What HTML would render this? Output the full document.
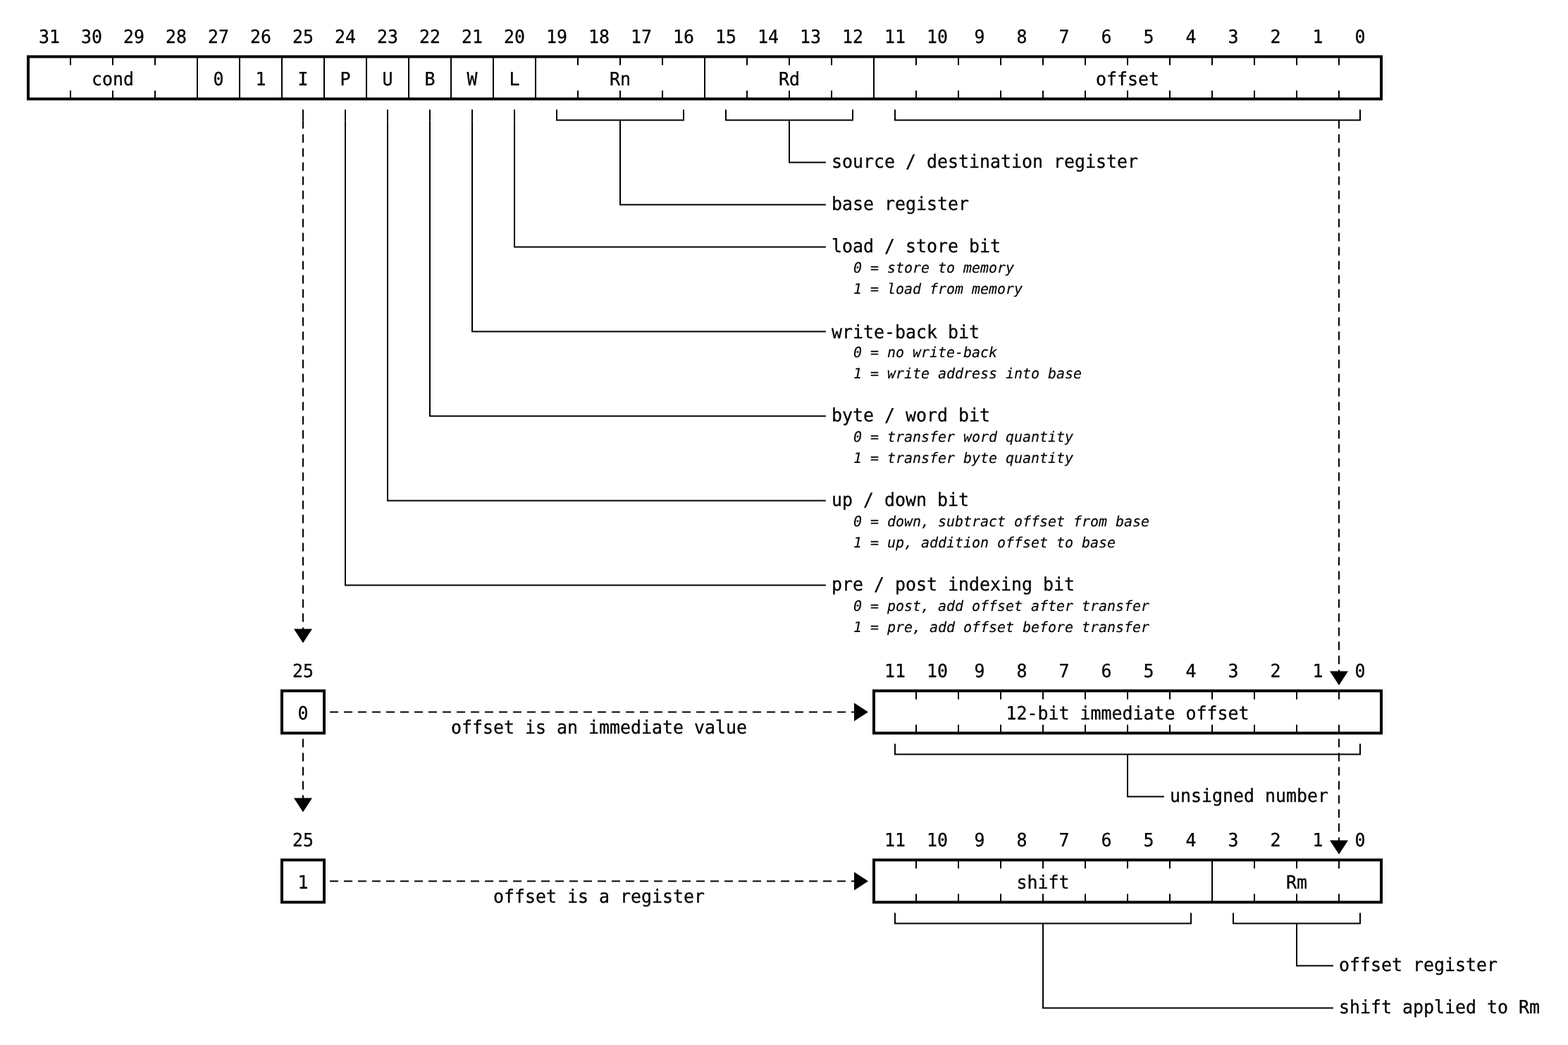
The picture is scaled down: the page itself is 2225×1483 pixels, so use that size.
<!DOCTYPE html>
<html lang="en">
<head>
<meta charset="utf-8">
<title>ARM single data transfer instruction format</title>
<style>
html,body{margin:0;padding:0;background:#fff;}
body{width:2225px;height:1483px;overflow:hidden;}
svg{display:block;will-change:transform;}
text{font-family:"DejaVu Sans Mono", "Liberation Mono", monospace;fill:#000;stroke:#000;stroke-width:0.3px;stroke-linejoin:round;white-space:pre;text-rendering:geometricPrecision;}
.m{font-size:26.0px;}
.i{font-size:20.4px;font-style:italic;stroke-width:0.15px;}
.a{fill:#000;stroke:none;}
</style>
</head>
<body>
<svg width="2225" height="1483" viewBox="0 0 2225 1483">
<rect x="0" y="0" width="2225" height="1483" fill="#fff"/>
<g transform="translate(0 0.4)" fill="none" stroke="#000">
<line x1="100" y1="80" x2="100" y2="92" stroke-width="2"/>
<line x1="100" y1="128" x2="100" y2="140" stroke-width="2"/>
<line x1="160" y1="80" x2="160" y2="92" stroke-width="2"/>
<line x1="160" y1="128" x2="160" y2="140" stroke-width="2"/>
<line x1="220" y1="80" x2="220" y2="92" stroke-width="2"/>
<line x1="220" y1="128" x2="220" y2="140" stroke-width="2"/>
<line x1="280" y1="80" x2="280" y2="140" stroke-width="2"/>
<line x1="340" y1="80" x2="340" y2="140" stroke-width="2"/>
<line x1="400" y1="80" x2="400" y2="140" stroke-width="2"/>
<line x1="460" y1="80" x2="460" y2="140" stroke-width="2"/>
<line x1="520" y1="80" x2="520" y2="140" stroke-width="2"/>
<line x1="580" y1="80" x2="580" y2="140" stroke-width="2"/>
<line x1="640" y1="80" x2="640" y2="140" stroke-width="2"/>
<line x1="700" y1="80" x2="700" y2="140" stroke-width="2"/>
<line x1="760" y1="80" x2="760" y2="140" stroke-width="2"/>
<line x1="820" y1="80" x2="820" y2="92" stroke-width="2"/>
<line x1="820" y1="128" x2="820" y2="140" stroke-width="2"/>
<line x1="880" y1="80" x2="880" y2="92" stroke-width="2"/>
<line x1="880" y1="128" x2="880" y2="140" stroke-width="2"/>
<line x1="940" y1="80" x2="940" y2="92" stroke-width="2"/>
<line x1="940" y1="128" x2="940" y2="140" stroke-width="2"/>
<line x1="1000" y1="80" x2="1000" y2="140" stroke-width="2"/>
<line x1="1060" y1="80" x2="1060" y2="92" stroke-width="2"/>
<line x1="1060" y1="128" x2="1060" y2="140" stroke-width="2"/>
<line x1="1120" y1="80" x2="1120" y2="92" stroke-width="2"/>
<line x1="1120" y1="128" x2="1120" y2="140" stroke-width="2"/>
<line x1="1180" y1="80" x2="1180" y2="92" stroke-width="2"/>
<line x1="1180" y1="128" x2="1180" y2="140" stroke-width="2"/>
<line x1="1240" y1="80" x2="1240" y2="140" stroke-width="2"/>
<line x1="1300" y1="80" x2="1300" y2="92" stroke-width="2"/>
<line x1="1300" y1="128" x2="1300" y2="140" stroke-width="2"/>
<line x1="1360" y1="80" x2="1360" y2="92" stroke-width="2"/>
<line x1="1360" y1="128" x2="1360" y2="140" stroke-width="2"/>
<line x1="1420" y1="80" x2="1420" y2="92" stroke-width="2"/>
<line x1="1420" y1="128" x2="1420" y2="140" stroke-width="2"/>
<line x1="1480" y1="80" x2="1480" y2="92" stroke-width="2"/>
<line x1="1480" y1="128" x2="1480" y2="140" stroke-width="2"/>
<line x1="1540" y1="80" x2="1540" y2="92" stroke-width="2"/>
<line x1="1540" y1="128" x2="1540" y2="140" stroke-width="2"/>
<line x1="1600" y1="80" x2="1600" y2="92" stroke-width="2"/>
<line x1="1600" y1="128" x2="1600" y2="140" stroke-width="2"/>
<line x1="1660" y1="80" x2="1660" y2="92" stroke-width="2"/>
<line x1="1660" y1="128" x2="1660" y2="140" stroke-width="2"/>
<line x1="1720" y1="80" x2="1720" y2="92" stroke-width="2"/>
<line x1="1720" y1="128" x2="1720" y2="140" stroke-width="2"/>
<line x1="1780" y1="80" x2="1780" y2="92" stroke-width="2"/>
<line x1="1780" y1="128" x2="1780" y2="140" stroke-width="2"/>
<line x1="1840" y1="80" x2="1840" y2="92" stroke-width="2"/>
<line x1="1840" y1="128" x2="1840" y2="140" stroke-width="2"/>
<line x1="1900" y1="80" x2="1900" y2="92" stroke-width="2"/>
<line x1="1900" y1="128" x2="1900" y2="140" stroke-width="2"/>
<rect x="40" y="80" width="1920" height="60" stroke-width="4"/>
<line x1="730" y1="155" x2="730" y2="170" stroke-width="2"/>
<path d="M730 170V350H1171.9" stroke-width="2"/>
<line x1="670" y1="155" x2="670" y2="170" stroke-width="2"/>
<path d="M670 170V470H1171.9" stroke-width="2"/>
<line x1="610" y1="155" x2="610" y2="170" stroke-width="2"/>
<path d="M610 170V590H1171.9" stroke-width="2"/>
<line x1="550" y1="155" x2="550" y2="170" stroke-width="2"/>
<path d="M550 170V710H1171.9" stroke-width="2"/>
<line x1="490" y1="155" x2="490" y2="170" stroke-width="2"/>
<path d="M490 170V830H1171.9" stroke-width="2"/>
<path d="M790 155V170H970V155" stroke-width="2"/>
<path d="M880 170V290H1171.9" stroke-width="2"/>
<path d="M1030 155V170H1210V155" stroke-width="2"/>
<path d="M1120 170V230H1171.9" stroke-width="2"/>
<path d="M1270 155V170H1930V155" stroke-width="2"/>
<line x1="430" y1="155" x2="430" y2="170" stroke-width="2"/>
<line x1="430" y1="170" x2="430" y2="893" stroke-width="2" stroke-dasharray="12 8"/>
<polygon class="a" points="417,892 443,892 430,912"/>
<line x1="1900" y1="170" x2="1900" y2="953" stroke-width="2" stroke-dasharray="12 8"/>
<polygon class="a" points="1887,952 1913,952 1900,972"/>
<rect x="400" y="980" width="60" height="60" stroke-width="4"/>
<line x1="468" y1="1010" x2="1213" y2="1010" stroke-width="2" stroke-dasharray="12 8"/>
<polygon class="a" points="1212,997 1212,1023 1232,1010"/>
<line x1="1300" y1="980" x2="1300" y2="992" stroke-width="2"/>
<line x1="1300" y1="1028" x2="1300" y2="1040" stroke-width="2"/>
<line x1="1360" y1="980" x2="1360" y2="992" stroke-width="2"/>
<line x1="1360" y1="1028" x2="1360" y2="1040" stroke-width="2"/>
<line x1="1420" y1="980" x2="1420" y2="992" stroke-width="2"/>
<line x1="1420" y1="1028" x2="1420" y2="1040" stroke-width="2"/>
<line x1="1480" y1="980" x2="1480" y2="992" stroke-width="2"/>
<line x1="1480" y1="1028" x2="1480" y2="1040" stroke-width="2"/>
<line x1="1540" y1="980" x2="1540" y2="992" stroke-width="2"/>
<line x1="1540" y1="1028" x2="1540" y2="1040" stroke-width="2"/>
<line x1="1600" y1="980" x2="1600" y2="992" stroke-width="2"/>
<line x1="1600" y1="1028" x2="1600" y2="1040" stroke-width="2"/>
<line x1="1660" y1="980" x2="1660" y2="992" stroke-width="2"/>
<line x1="1660" y1="1028" x2="1660" y2="1040" stroke-width="2"/>
<line x1="1720" y1="980" x2="1720" y2="992" stroke-width="2"/>
<line x1="1720" y1="1028" x2="1720" y2="1040" stroke-width="2"/>
<line x1="1780" y1="980" x2="1780" y2="992" stroke-width="2"/>
<line x1="1780" y1="1028" x2="1780" y2="1040" stroke-width="2"/>
<line x1="1840" y1="980" x2="1840" y2="992" stroke-width="2"/>
<line x1="1840" y1="1028" x2="1840" y2="1040" stroke-width="2"/>
<line x1="1900" y1="980" x2="1900" y2="992" stroke-width="2"/>
<line x1="1900" y1="1028" x2="1900" y2="1040" stroke-width="2"/>
<rect x="1240" y="980" width="720" height="60" stroke-width="4"/>
<path d="M1270 1055V1070H1930V1055" stroke-width="2"/>
<path d="M1600 1070V1130H1651.9" stroke-width="2"/>
<line x1="430" y1="1048" x2="430" y2="1133" stroke-width="2" stroke-dasharray="12 8"/>
<polygon class="a" points="417,1132 443,1132 430,1152"/>
<line x1="1900" y1="1048" x2="1900" y2="1193" stroke-width="2" stroke-dasharray="12 8"/>
<polygon class="a" points="1887,1192 1913,1192 1900,1212"/>
<rect x="400" y="1220" width="60" height="60" stroke-width="4"/>
<line x1="468" y1="1250" x2="1213" y2="1250" stroke-width="2" stroke-dasharray="12 8"/>
<polygon class="a" points="1212,1237 1212,1263 1232,1250"/>
<line x1="1300" y1="1220" x2="1300" y2="1232" stroke-width="2"/>
<line x1="1300" y1="1268" x2="1300" y2="1280" stroke-width="2"/>
<line x1="1360" y1="1220" x2="1360" y2="1232" stroke-width="2"/>
<line x1="1360" y1="1268" x2="1360" y2="1280" stroke-width="2"/>
<line x1="1420" y1="1220" x2="1420" y2="1232" stroke-width="2"/>
<line x1="1420" y1="1268" x2="1420" y2="1280" stroke-width="2"/>
<line x1="1480" y1="1220" x2="1480" y2="1232" stroke-width="2"/>
<line x1="1480" y1="1268" x2="1480" y2="1280" stroke-width="2"/>
<line x1="1540" y1="1220" x2="1540" y2="1232" stroke-width="2"/>
<line x1="1540" y1="1268" x2="1540" y2="1280" stroke-width="2"/>
<line x1="1600" y1="1220" x2="1600" y2="1232" stroke-width="2"/>
<line x1="1600" y1="1268" x2="1600" y2="1280" stroke-width="2"/>
<line x1="1660" y1="1220" x2="1660" y2="1232" stroke-width="2"/>
<line x1="1660" y1="1268" x2="1660" y2="1280" stroke-width="2"/>
<line x1="1720" y1="1220" x2="1720" y2="1280" stroke-width="2"/>
<line x1="1780" y1="1220" x2="1780" y2="1232" stroke-width="2"/>
<line x1="1780" y1="1268" x2="1780" y2="1280" stroke-width="2"/>
<line x1="1840" y1="1220" x2="1840" y2="1232" stroke-width="2"/>
<line x1="1840" y1="1268" x2="1840" y2="1280" stroke-width="2"/>
<line x1="1900" y1="1220" x2="1900" y2="1232" stroke-width="2"/>
<line x1="1900" y1="1268" x2="1900" y2="1280" stroke-width="2"/>
<rect x="1240" y="1220" width="720" height="60" stroke-width="4"/>
<path d="M1270 1295V1310H1690V1295" stroke-width="2"/>
<path d="M1480 1310V1430H1891.9" stroke-width="2"/>
<path d="M1750 1295V1310H1930V1295" stroke-width="2"/>
<path d="M1840 1310V1370H1891.9" stroke-width="2"/>
</g>
<g>
<text class="m" transform="translate(70 60.8) scale(0.9583 1)" text-anchor="middle">31</text>
<text class="m" transform="translate(130 60.8) scale(0.9583 1)" text-anchor="middle">30</text>
<text class="m" transform="translate(190 60.8) scale(0.9583 1)" text-anchor="middle">29</text>
<text class="m" transform="translate(250 60.8) scale(0.9583 1)" text-anchor="middle">28</text>
<text class="m" transform="translate(310 60.8) scale(0.9583 1)" text-anchor="middle">27</text>
<text class="m" transform="translate(370 60.8) scale(0.9583 1)" text-anchor="middle">26</text>
<text class="m" transform="translate(430 60.8) scale(0.9583 1)" text-anchor="middle">25</text>
<text class="m" transform="translate(490 60.8) scale(0.9583 1)" text-anchor="middle">24</text>
<text class="m" transform="translate(550 60.8) scale(0.9583 1)" text-anchor="middle">23</text>
<text class="m" transform="translate(610 60.8) scale(0.9583 1)" text-anchor="middle">22</text>
<text class="m" transform="translate(670 60.8) scale(0.9583 1)" text-anchor="middle">21</text>
<text class="m" transform="translate(730 60.8) scale(0.9583 1)" text-anchor="middle">20</text>
<text class="m" transform="translate(790 60.8) scale(0.9583 1)" text-anchor="middle">19</text>
<text class="m" transform="translate(850 60.8) scale(0.9583 1)" text-anchor="middle">18</text>
<text class="m" transform="translate(910 60.8) scale(0.9583 1)" text-anchor="middle">17</text>
<text class="m" transform="translate(970 60.8) scale(0.9583 1)" text-anchor="middle">16</text>
<text class="m" transform="translate(1030 60.8) scale(0.9583 1)" text-anchor="middle">15</text>
<text class="m" transform="translate(1090 60.8) scale(0.9583 1)" text-anchor="middle">14</text>
<text class="m" transform="translate(1150 60.8) scale(0.9583 1)" text-anchor="middle">13</text>
<text class="m" transform="translate(1210 60.8) scale(0.9583 1)" text-anchor="middle">12</text>
<text class="m" transform="translate(1270 60.8) scale(0.9583 1)" text-anchor="middle">11</text>
<text class="m" transform="translate(1330 60.8) scale(0.9583 1)" text-anchor="middle">10</text>
<text class="m" transform="translate(1390 60.8) scale(0.9583 1)" text-anchor="middle">9</text>
<text class="m" transform="translate(1450 60.8) scale(0.9583 1)" text-anchor="middle">8</text>
<text class="m" transform="translate(1510 60.8) scale(0.9583 1)" text-anchor="middle">7</text>
<text class="m" transform="translate(1570 60.8) scale(0.9583 1)" text-anchor="middle">6</text>
<text class="m" transform="translate(1630 60.8) scale(0.9583 1)" text-anchor="middle">5</text>
<text class="m" transform="translate(1690 60.8) scale(0.9583 1)" text-anchor="middle">4</text>
<text class="m" transform="translate(1750 60.8) scale(0.9583 1)" text-anchor="middle">3</text>
<text class="m" transform="translate(1810 60.8) scale(0.9583 1)" text-anchor="middle">2</text>
<text class="m" transform="translate(1870 60.8) scale(0.9583 1)" text-anchor="middle">1</text>
<text class="m" transform="translate(1930 60.8) scale(0.9583 1)" text-anchor="middle">0</text>
<text class="m" transform="translate(160 120.8) scale(0.9583 1)" text-anchor="middle">cond</text>
<text class="m" transform="translate(310 120.8) scale(0.9583 1)" text-anchor="middle">0</text>
<text class="m" transform="translate(370 120.8) scale(0.9583 1)" text-anchor="middle">1</text>
<text class="m" transform="translate(430 120.8) scale(0.9583 1)" text-anchor="middle">I</text>
<text class="m" transform="translate(490 120.8) scale(0.9583 1)" text-anchor="middle">P</text>
<text class="m" transform="translate(550 120.8) scale(0.9583 1)" text-anchor="middle">U</text>
<text class="m" transform="translate(610 120.8) scale(0.9583 1)" text-anchor="middle">B</text>
<text class="m" transform="translate(670 120.8) scale(0.9583 1)" text-anchor="middle">W</text>
<text class="m" transform="translate(730 120.8) scale(0.9583 1)" text-anchor="middle">L</text>
<text class="m" transform="translate(880 120.8) scale(0.9583 1)" text-anchor="middle">Rn</text>
<text class="m" transform="translate(1120 120.8) scale(0.9583 1)" text-anchor="middle">Rd</text>
<text class="m" transform="translate(1600 120.8) scale(0.9583 1)" text-anchor="middle">offset</text>
<text class="m" transform="translate(1180 358.4) scale(0.9583 1)">load / store bit</text>
<text class="i" transform="translate(1211.1 387.2) scale(0.9771 1)">0 = store to memory</text>
<text class="i" transform="translate(1211.1 417.2) scale(0.9771 1)">1 = load from memory</text>
<text class="m" transform="translate(1180 480.2) scale(0.9583 1)">write-back bit</text>
<text class="i" transform="translate(1211.1 507.2) scale(0.9771 1)">0 = no write-back</text>
<text class="i" transform="translate(1211.1 537.2) scale(0.9771 1)">1 = write address into base</text>
<text class="m" transform="translate(1180 598.4) scale(0.9583 1)">byte / word bit</text>
<text class="i" transform="translate(1211.1 627.2) scale(0.9771 1)">0 = transfer word quantity</text>
<text class="i" transform="translate(1211.1 657.2) scale(0.9771 1)">1 = transfer byte quantity</text>
<text class="m" transform="translate(1180 718.4) scale(0.9583 1)">up / down bit</text>
<text class="i" transform="translate(1211.1 747.2) scale(0.9771 1)">0 = down, subtract offset from base</text>
<text class="i" transform="translate(1211.1 777.2) scale(0.9771 1)">1 = up, addition offset to base</text>
<text class="m" transform="translate(1180 838.4) scale(0.9583 1)">pre / post indexing bit</text>
<text class="i" transform="translate(1211.1 867.2) scale(0.9771 1)">0 = post, add offset after transfer</text>
<text class="i" transform="translate(1211.1 897.2) scale(0.9771 1)">1 = pre, add offset before transfer</text>
<text class="m" transform="translate(1180 298.4) scale(0.9583 1)">base register</text>
<text class="m" transform="translate(1180 238.4) scale(0.9583 1)">source / destination register</text>
<text class="m" transform="translate(430 960.8) scale(0.9583 1)" text-anchor="middle">25</text>
<text class="m" transform="translate(430 1020.8) scale(0.9583 1)" text-anchor="middle">0</text>
<text class="m" transform="translate(850 1041) scale(0.9583 1)" text-anchor="middle">offset is an immediate value</text>
<text class="m" transform="translate(1270 960.8) scale(0.9583 1)" text-anchor="middle">11</text>
<text class="m" transform="translate(1330 960.8) scale(0.9583 1)" text-anchor="middle">10</text>
<text class="m" transform="translate(1390 960.8) scale(0.9583 1)" text-anchor="middle">9</text>
<text class="m" transform="translate(1450 960.8) scale(0.9583 1)" text-anchor="middle">8</text>
<text class="m" transform="translate(1510 960.8) scale(0.9583 1)" text-anchor="middle">7</text>
<text class="m" transform="translate(1570 960.8) scale(0.9583 1)" text-anchor="middle">6</text>
<text class="m" transform="translate(1630 960.8) scale(0.9583 1)" text-anchor="middle">5</text>
<text class="m" transform="translate(1690 960.8) scale(0.9583 1)" text-anchor="middle">4</text>
<text class="m" transform="translate(1750 960.8) scale(0.9583 1)" text-anchor="middle">3</text>
<text class="m" transform="translate(1810 960.8) scale(0.9583 1)" text-anchor="middle">2</text>
<text class="m" transform="translate(1870 960.8) scale(0.9583 1)" text-anchor="middle">1</text>
<text class="m" transform="translate(1930 960.8) scale(0.9583 1)" text-anchor="middle">0</text>
<text class="m" transform="translate(1600 1020.8) scale(0.9583 1)" text-anchor="middle">12-bit immediate offset</text>
<text class="m" transform="translate(1660 1138.4) scale(0.9583 1)">unsigned number</text>
<text class="m" transform="translate(430 1200.8) scale(0.9583 1)" text-anchor="middle">25</text>
<text class="m" transform="translate(430 1260.8) scale(0.9583 1)" text-anchor="middle">1</text>
<text class="m" transform="translate(850 1281) scale(0.9583 1)" text-anchor="middle">offset is a register</text>
<text class="m" transform="translate(1270 1200.8) scale(0.9583 1)" text-anchor="middle">11</text>
<text class="m" transform="translate(1330 1200.8) scale(0.9583 1)" text-anchor="middle">10</text>
<text class="m" transform="translate(1390 1200.8) scale(0.9583 1)" text-anchor="middle">9</text>
<text class="m" transform="translate(1450 1200.8) scale(0.9583 1)" text-anchor="middle">8</text>
<text class="m" transform="translate(1510 1200.8) scale(0.9583 1)" text-anchor="middle">7</text>
<text class="m" transform="translate(1570 1200.8) scale(0.9583 1)" text-anchor="middle">6</text>
<text class="m" transform="translate(1630 1200.8) scale(0.9583 1)" text-anchor="middle">5</text>
<text class="m" transform="translate(1690 1200.8) scale(0.9583 1)" text-anchor="middle">4</text>
<text class="m" transform="translate(1750 1200.8) scale(0.9583 1)" text-anchor="middle">3</text>
<text class="m" transform="translate(1810 1200.8) scale(0.9583 1)" text-anchor="middle">2</text>
<text class="m" transform="translate(1870 1200.8) scale(0.9583 1)" text-anchor="middle">1</text>
<text class="m" transform="translate(1930 1200.8) scale(0.9583 1)" text-anchor="middle">0</text>
<text class="m" transform="translate(1480 1260.8) scale(0.9583 1)" text-anchor="middle">shift</text>
<text class="m" transform="translate(1840 1260.8) scale(0.9583 1)" text-anchor="middle">Rm</text>
<text class="m" transform="translate(1900 1438.4) scale(0.9583 1)">shift applied to Rm</text>
<text class="m" transform="translate(1900 1378.4) scale(0.9583 1)">offset register</text>
</g>
</svg>
</body>
</html>
